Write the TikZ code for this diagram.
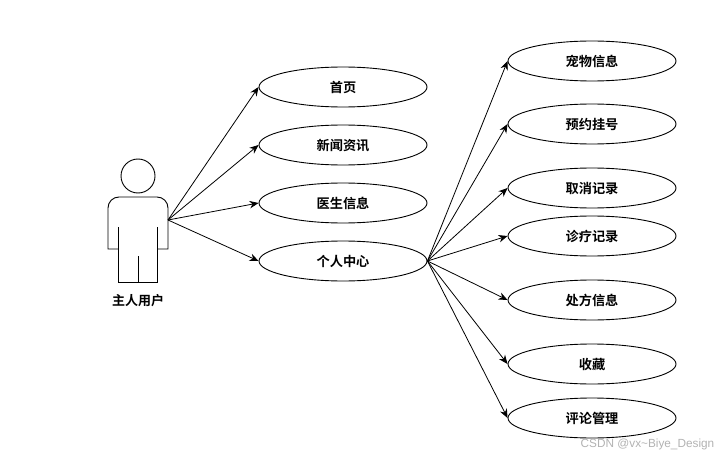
\documentclass[tikz,border=0pt]{standalone}
\usepackage{fontspec}
\setmainfont{Liberation Sans}
\newfontfamily\cjk{Noto Sans CJK SC}[BoldFont={Noto Sans CJK SC Bold}]
\usetikzlibrary{shapes.geometric,arrows.meta}
\tikzset{
  usecase/.style={draw=black,line width=0.9pt,ellipse,fill=white,minimum width=168pt,minimum height=40pt,inner sep=0pt,text depth=0pt,font=\cjk\bfseries\fontsize{13.2}{14}\selectfont},
  link/.style={draw=black,line width=0.8pt,-{Stealth[length=9pt,width=7.5pt]}},
  actorline/.style={draw=black,line width=0.9pt},
}
\begin{document}
\begin{tikzpicture}[x=1pt,y=-1pt]
\useasboundingbox (0,0) rectangle (727,457);
% actor
\node[circle,draw=black,line width=0.9pt,minimum size=34pt,inner sep=0pt] (head) at (138,176) {};
\draw[actorline] (118,249) -- (108,249) -- (108,225) [rounded corners=11pt] -- (108,197) -- (168,197) -- (168,225) [sharp corners] -- (168,249) -- (158,249);
\draw[actorline] (118,227) -- (118,282) -- (157.5,282) -- (157.5,227);
\draw[actorline] (138,256) -- (138,282);
\coordinate (hand) at (168,220);
\node[font=\cjk\bfseries\fontsize{13}{14}\selectfont] (actorlabel) at (138,300.5) {主人用户};
% left column
\node[usecase] (a1) at (343,87) {\raisebox{-0.5pt}{首页}};
\node[usecase] (a2) at (343,145) {\raisebox{-0.5pt}{新闻资讯}};
\node[usecase] (a3) at (343,203) {\raisebox{-0.5pt}{医生信息}};
\node[usecase] (a4) at (343,261) {\raisebox{-0.5pt}{个人中心}};
% right column
\node[usecase] (b1) at (592,61) {\raisebox{-0.5pt}{宠物信息}};
\node[usecase] (b2) at (592,124) {\raisebox{-0.5pt}{预约挂号}};
\node[usecase] (b3) at (592,188) {\raisebox{-0.5pt}{取消记录}};
\node[usecase] (b4) at (592,236) {\raisebox{-0.5pt}{诊疗记录}};
\node[usecase] (b5) at (592,300) {\raisebox{-0.5pt}{处方信息}};
\node[usecase] (b6) at (592,364) {\raisebox{-0.5pt}{收藏}};
\node[usecase] (b7) at (592,418) {\raisebox{-0.5pt}{评论管理}};
\foreach \t in {a1,a2,a3,a4} \draw[link] (hand) -- (\t.west);
\foreach \t in {b1,b2,b3,b4,b5,b6,b7} \draw[link] (a4.east) -- (\t.west);
\node[font=\fontsize{11.8}{14}\selectfont,text=black!30,anchor=east,inner sep=0pt] (mark) at (714.5,444.5) {CSDN @vx\textasciitilde Biye\_Design};
\end{tikzpicture}
\end{document}
